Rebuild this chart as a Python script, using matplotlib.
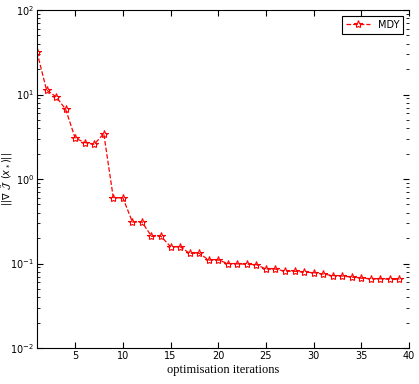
import numpy as np
import matplotlib
matplotlib.use("Agg")
import matplotlib.pyplot as plt

# gradient norm per optimisation iteration
iterations = list(range(1, 40))
grad_norm = [31.8, 11.3, 9.4, 6.7, 3.05, 2.7, 2.57, 3.45, 0.60, 0.60,
             0.31, 0.31, 0.21, 0.21, 0.158, 0.158, 0.132, 0.132, 0.11, 0.11,
             0.100, 0.099, 0.098, 0.097, 0.086, 0.086, 0.081, 0.081, 0.079, 0.078,
             0.075, 0.072, 0.071, 0.069, 0.067, 0.066, 0.066, 0.065, 0.065]
series_name = "MDY"
x_ticks = [5, 10, 15, 20, 25, 30, 35, 40]

plt.rcParams['font.family'] = ['DejaVu Sans']
fig = plt.figure(figsize=(4.19, 3.84), dpi=100)
ax = fig.add_axes([37/419, 36/384, (409-37)/419, (348-10)/384])

ax.semilogy(iterations, grad_norm, color='red', linestyle='--', linewidth=0.9,
            marker='*', markersize=6, markerfacecolor='none',
            markeredgecolor='red', markeredgewidth=0.8, label=series_name)

ax.set_xlim(1, 40)
ax.set_ylim(1e-2, 1e2)
ax.set_xticks(x_ticks)
ax.tick_params(which='both', direction='in', top=True, right=True, labelsize=7, pad=2)
ax.tick_params(which='major', length=4)
ax.tick_params(which='minor', length=2)
ax.spines['right'].set_visible(False)

ax.set_xlabel('optimisation iterations', family='Liberation Serif', fontsize=9, labelpad=2)
ax.set_ylabel(r'$||\nabla\ \tilde{\mathcal{J}}\ \,(x_*)||$', fontsize=7)
ax.yaxis.set_label_coords(-0.058, 0.5)

leg = ax.legend(loc='upper right', fontsize=7, fancybox=False, framealpha=1,
                edgecolor='black', borderaxespad=0.6, handlelength=2.5)
leg.get_frame().set_linewidth(0.8)

fig.savefig('out.png', dpi=100)
